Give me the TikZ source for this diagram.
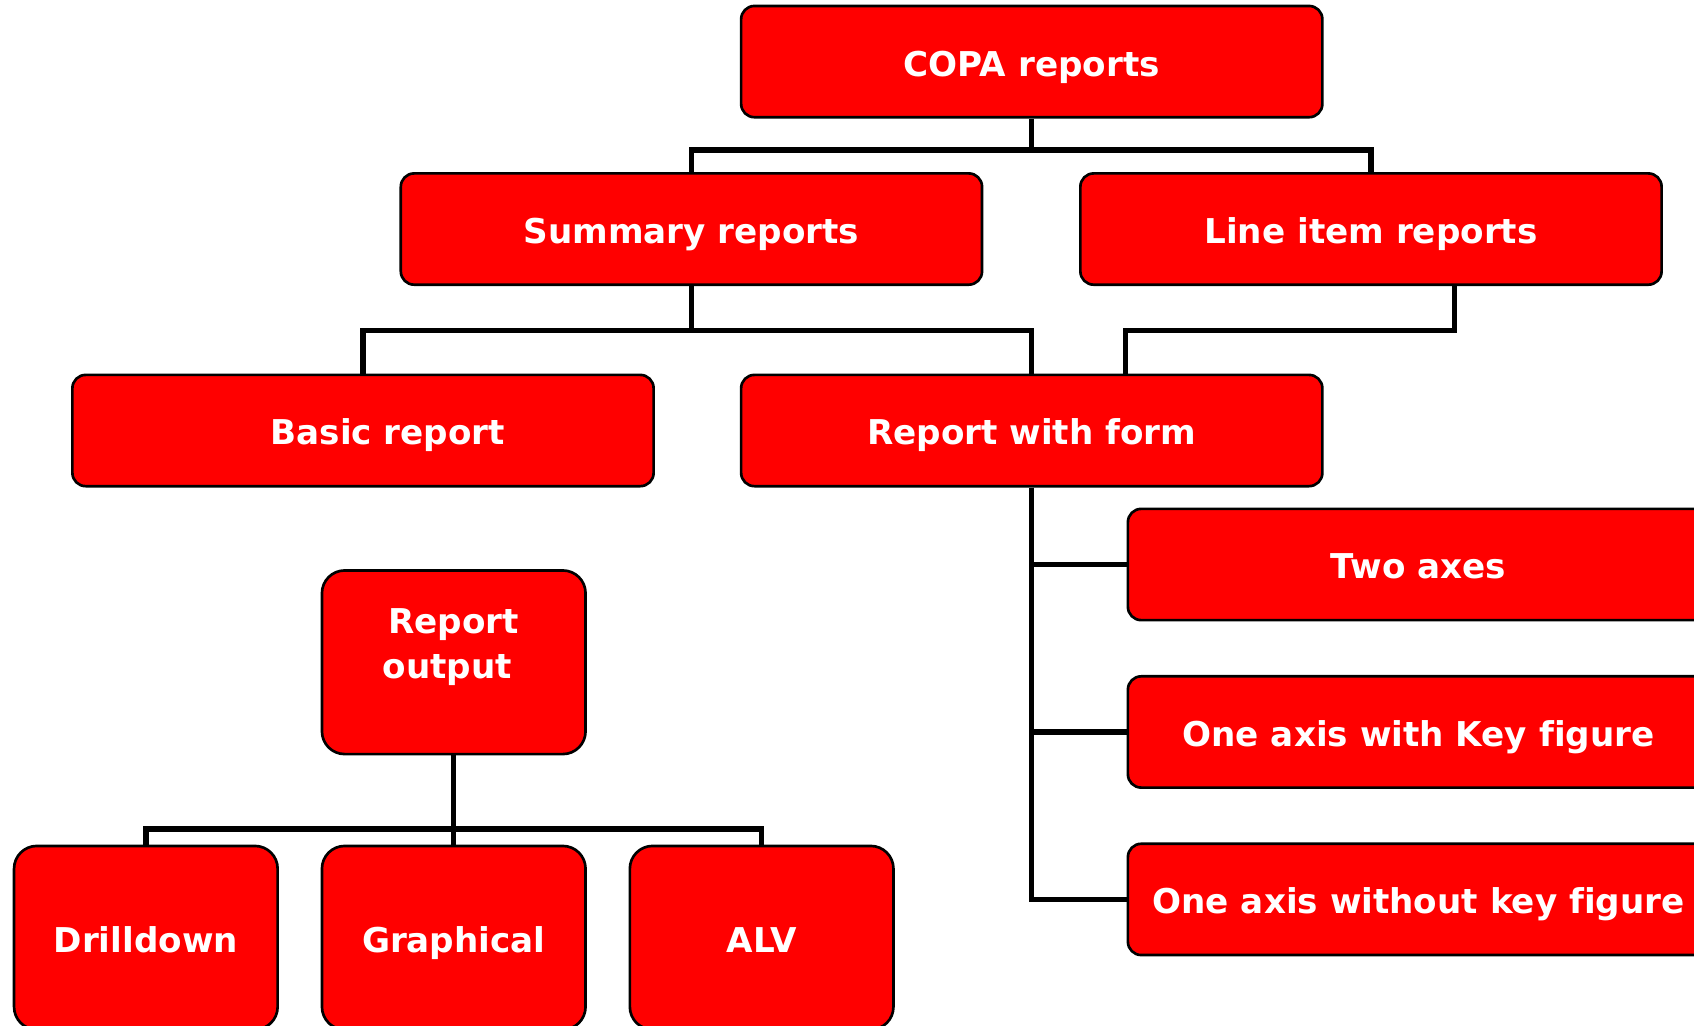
\documentclass[tikz,border=0pt]{standalone}
\usepackage{fontspec}
\setmainfont{DejaVu Sans}[Ligatures=NoCommon]

\tikzset{
	rep/.style={draw=black, line width=0.7pt, fill=red, rounded corners=3.5pt,
		minimum width=5.38cm, minimum height=1.03cm, inner sep=0pt,
		text height=9.5pt, text depth=1.9pt},
	outp/.style={rep, minimum width=2.44cm, minimum height=1.70cm, rounded corners=6pt},
	conn/.style={line width=1.4pt, black},
}

\begin{document}
\begin{tikzpicture}[font=\fontsize{9}{12}\selectfont\bfseries, text=white]
		\useasboundingbox (0,0) rectangle (15.68,-9.49);
		\clip (0,0) rectangle (15.68,-9.49);
		% report types
		\node [rep] (copa) at (9.55,-0.57) {COPA reports};
		\node [rep] (summary) at (6.40,-2.12) {Summary reports};
		\node [rep] (lineitem) at (12.69,-2.12) {Line item reports};
		\node [rep, label={[xshift=0.23cm, text height=9.5pt, text depth=1.9pt]center:Basic report}] (basic) at (3.36,-3.985) {};
		\node [rep] (form) at (9.55,-3.985) {Report with form};
		\node [rep] (twoaxes) at (13.13,-5.225) {Two axes};
		\node [rep] (keyfig) at (13.13,-6.775) {One axis with Key figure};
		\node [rep] (nokey) at (13.13,-8.325) {One axis without key figure};
		% output
		\node [outp, text height=, text depth=, label={[align=center, yshift=0.14cm]center:Report\\output\hspace*{0.12cm}}] (output) at (4.20,-6.13) {};
		\node [outp] (drill) at (1.35,-8.68) {Drilldown};
		\node [outp] (graph) at (4.20,-8.68) {Graphical};
		\node [outp] (alv) at (7.05,-8.68) {ALV};
		% connectors
		\draw [conn] (copa.south) -- ++(0,-0.29) coordinate (j1);
		\draw [conn] (summary.north) |- (j1) -| (lineitem.north);
		\draw [conn] (summary.south) -- ++(0,-0.41) coordinate (j2);
		\draw [conn] (basic.north) |- (j2) -| (form.north);
		\draw [conn] ([xshift=0.77cm]lineitem.south) -- ++(0,-0.41) -| ([xshift=0.87cm]form.north);
		\draw [conn] (form.south) |- (twoaxes.west);
		\draw [conn] (form.south) |- (keyfig.west);
		\draw [conn] (form.south) |- (nokey.west);
		\draw [conn] (output.south) -- ++(0,-0.68) coordinate (j3);
		\draw [conn] (drill.north) |- (j3) -| (alv.north);
		\draw [conn] (j3) -- (graph.north);
	\end{tikzpicture}
\end{document}
